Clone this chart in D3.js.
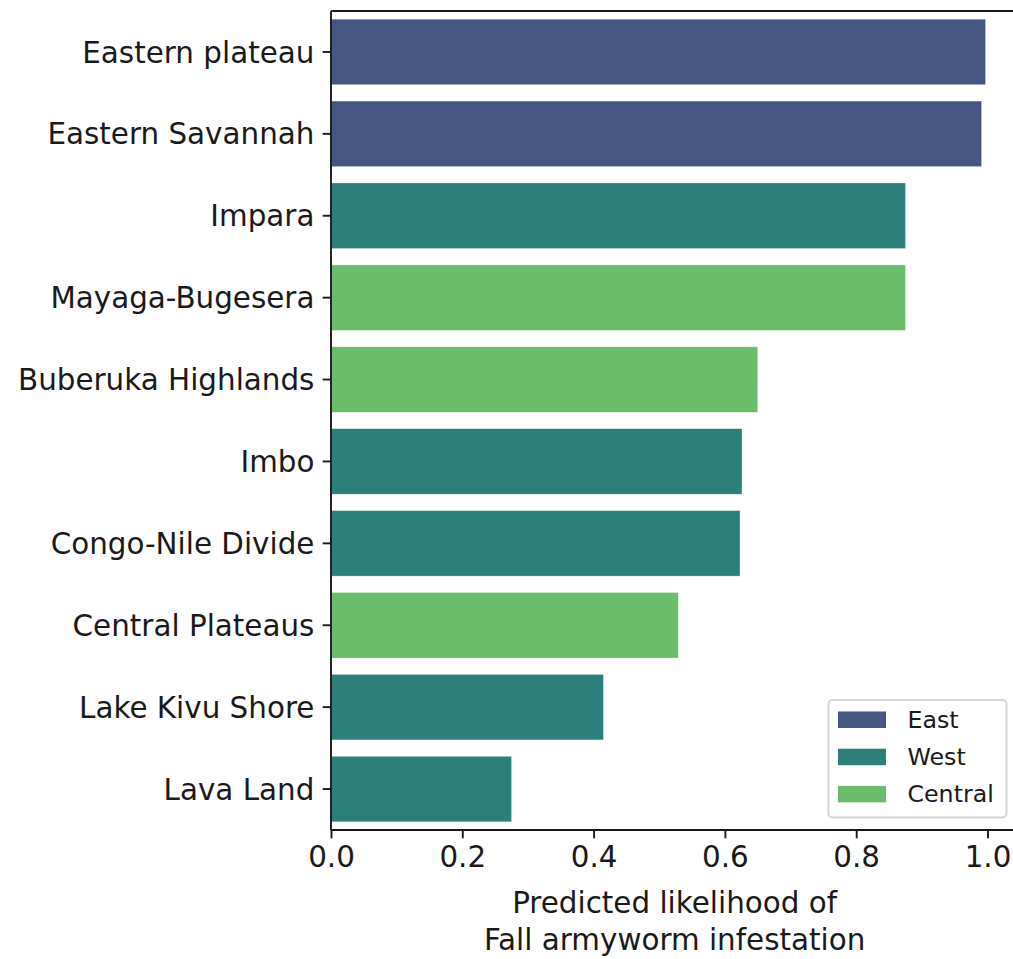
<!DOCTYPE html>
<html>
<head>
<meta charset="utf-8">
<script src="https://cdn.jsdelivr.net/npm/d3@7"></script>
<style>
  body { margin: 0; background: #fff; }
  svg { display: block; }
  text { font-family: "DejaVu Sans", sans-serif; fill: #1a1a1a; }
</style>
</head>
<body>
<script>
const regions = ["Eastern plateau", "Eastern Savannah", "Impara", "Mayaga-Bugesera", "Buberuka Highlands", "Imbo", "Congo-Nile Divide", "Central Plateaus", "Lake Kivu Shore", "Lava Land"];
const likelihood = [0.997, 0.991, 0.875, 0.875, 0.650, 0.626, 0.623, 0.529, 0.415, 0.275];
const zones = ["East", "East", "West", "Central", "Central", "West", "West", "Central", "West", "West"];
const legendLabels = ["East", "West", "Central"];
const zoneColors = ["#455681", "#2d7f7b", "#6bbd6b"];
const xTicks = [0.0, 0.2, 0.4, 0.6, 0.8, 1.0];
const xLabelLines = ["Predicted likelihood of", "Fall armyworm infestation"];

(function () {
const W = 1013, H = 959;
const mLeft = 331, mTop = 11, mBottom = 830;
const FS = 29.4;
const xMax = d3.max(likelihood) * 1.05;
const mRight = mLeft + 656.5 * xMax;

const svg = d3.select("body").append("svg").attr("width", W).attr("height", H);

const x = d3.scaleLinear().domain([0, xMax]).range([mLeft, mRight]);
const y = d3.scaleBand().domain(regions).range([mTop, mBottom]).paddingInner(0.2).paddingOuter(0.1);
const color = d3.scaleOrdinal().domain(legendLabels).range(zoneColors);

// bars
svg.append("g").selectAll("rect").data(regions).join("rect")
  .attr("x", x(0))
  .attr("y", d => y(d))
  .attr("width", (d, i) => x(likelihood[i]) - x(0))
  .attr("height", y.bandwidth())
  .attr("fill", (d, i) => color(zones[i]))
  .attr("stroke", "#ffffff").attr("stroke-opacity", 0.5).attr("stroke-width", 0.6);

// x axis
const xAxis = d3.axisBottom(x).tickValues(xTicks).tickFormat(d3.format(".1f")).tickSize(8.3).tickPadding(8.3);
const gx = svg.append("g").attr("transform", `translate(0,${mBottom})`).call(xAxis);
gx.select(".domain").remove();
gx.selectAll(".tick line").attr("stroke", "#1a1a1a").attr("stroke-width", 1.9);
gx.selectAll(".tick text").attr("font-size", FS).attr("font-family", "DejaVu Sans").attr("fill", "#1a1a1a").attr("dy", "0.71em");

// y axis
const yAxis = d3.axisLeft(y).tickSize(8.3).tickPadding(8.3);
const gy = svg.append("g").attr("transform", `translate(${mLeft},0)`).call(yAxis);
gy.select(".domain").remove();
gy.selectAll(".tick line").attr("stroke", "#1a1a1a").attr("stroke-width", 1.9);
gy.selectAll(".tick text").attr("font-size", FS).attr("font-family", "DejaVu Sans").attr("fill", "#1a1a1a").attr("dy", "0.36em");

// spines
const sp = svg.append("g").attr("stroke", "#1a1a1a").attr("stroke-width", 1.9).attr("fill", "none");
sp.append("line").attr("x1", mLeft).attr("x2", mLeft).attr("y1", mTop).attr("y2", mBottom);
sp.append("line").attr("x1", mLeft).attr("x2", mRight).attr("y1", mBottom).attr("y2", mBottom);
sp.append("line").attr("x1", mLeft).attr("x2", mRight).attr("y1", mTop).attr("y2", mTop);
sp.append("line").attr("x1", mRight).attr("x2", mRight).attr("y1", mTop).attr("y2", mBottom);

// x label
const xl = svg.append("text").attr("text-anchor", "middle").attr("font-size", FS)
  .attr("x", (mLeft + mRight) / 2).attr("y", 913);
xLabelLines.forEach((t, i) => xl.append("tspan").attr("x", (mLeft + mRight) / 2).attr("dy", i === 0 ? 0 : 36.7).text(t));

// legend
const lg = svg.append("g");
lg.append("rect").attr("x", 828.5).attr("y", 700).attr("width", 178).attr("height", 117.5)
  .attr("rx", 4).attr("fill", "#fff").attr("fill-opacity", 0.8).attr("stroke", "#d6d6d6").attr("stroke-width", 1.9);
legendLabels.forEach((lab, i) => {
  const yy = 711.5 + i * 37.2;
  lg.append("rect").attr("x", 838).attr("y", yy).attr("width", 48).attr("height", 16.5).attr("fill", color(lab));
  lg.append("text").attr("x", 907.5).attr("y", yy + 16.5).attr("font-size", 23.7).text(lab);
});
})();
</script>
</body>
</html>
